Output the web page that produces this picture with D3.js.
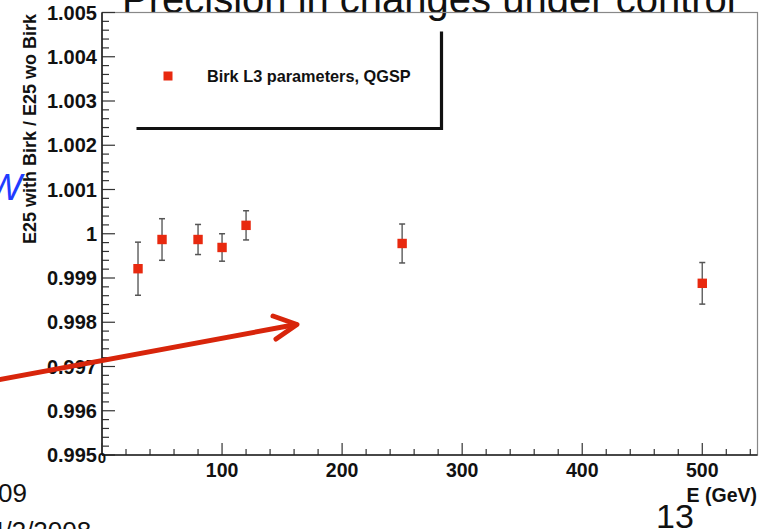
<!DOCTYPE html>
<html><head><meta charset="utf-8">
<script src="https://cdn.jsdelivr.net/npm/d3@7"></script>
<style>
html,body{margin:0;padding:0;background:#fff;}
svg{display:block;}
text{font-family:"Liberation Sans",Arial,Helvetica,sans-serif;}
</style></head>
<body>
<script>
// ---- data ----
const energies = [30, 50, 80, 100, 120, 250, 500];
const ratios   = [0.99921, 0.99987, 0.99987, 0.99969, 1.00019, 0.99978, 0.99888];
const errors   = [0.00060, 0.00047, 0.00034, 0.00031, 0.00033, 0.00044, 0.00047];
const yTickValues = [0.995, 0.996, 0.997, 0.998, 0.999, 1.000, 1.001, 1.002, 1.003, 1.004, 1.005];
const yTickLabels = ["0.995","0.996","0.997","0.998","0.999","1","1.001","1.002","1.003","1.004","1.005"];
const xTickValues = [0, 100, 200, 300, 400, 500];
const xTickLabels = ["0","100","200","300","400","500"];
const legendLabel = "Birk L3 parameters, QGSP";
const xTitle = "E (GeV)";
const yTitle = "E25 with Birk / E25 wo Birk";

const W = 764, H = 529;
const svg = d3.select("body").append("svg").attr("width", W).attr("height", H);

const pL = 102, pR = 757.5, pT = 12.5, pB = 455;
const x = d3.scaleLinear().domain([0, 546]).range([pL, pR]);
const y = d3.scaleLinear().domain([0.995, 1.005]).range([pB, pT]);

const red = "#e8290f";

// slide background text (cropped)
svg.append("text").attr("x", 122).attr("y", 13).attr("font-size", 40).attr("fill", "#111")
  .text("Precision in changes under control");
svg.append("text").attr("x", -13).attr("y", 200).attr("font-size", 37).attr("font-style", "italic")
  .attr("fill", "#1f3cff").text("W");
svg.append("text").attr("x", -2).attr("y", 502).attr("font-size", 26).attr("fill", "#111").text("09");
svg.append("text").attr("x", -10).attr("y", 540).attr("font-size", 26).attr("fill", "#111").text("4/3/2008");
svg.append("text").attr("x", 656).attr("y", 528).attr("font-size", 34).attr("fill", "#111").text("13");

// frame
svg.append("rect").attr("x", pL).attr("y", pT).attr("width", pR - pL).attr("height", pB - pT)
  .attr("fill", "none").attr("stroke", "#888").attr("stroke-width", 1.2);

// y axis
const yMinor = d3.range(0, 51).map(i => 0.995 + i * 0.0002);
svg.append("g").selectAll("line").data(yMinor).join("line")
  .attr("x1", pL).attr("x2", (d, i) => pL + (i % 5 === 0 ? 13 : 7))
  .attr("y1", d => y(d)).attr("y2", d => y(d)).attr("stroke", "#333").attr("stroke-width", 1.2);
svg.append("line").attr("x1", pL).attr("x2", pL).attr("y1", pT).attr("y2", pB)
  .attr("stroke", "#222").attr("stroke-width", 1.6);
svg.append("g").selectAll("text").data(yTickValues).join("text")
  .attr("x", 97).attr("y", d => y(d)).attr("dy", "0.36em").attr("text-anchor", "end")
  .attr("font-size", 20).attr("font-weight", "bold").attr("fill", "#111")
  .text((d, i) => yTickLabels[i]);

// x axis
const xMinor = d3.range(0, 28).map(i => i * 20).filter(v => v <= 546);
svg.append("g").selectAll("line").data(xMinor).join("line")
  .attr("x1", d => x(d)).attr("x2", d => x(d))
  .attr("y1", pB).attr("y2", d => pB - (d % 100 === 0 ? 12 : 6))
  .attr("stroke", "#333").attr("stroke-width", 1.2);
svg.append("line").attr("x1", pL).attr("x2", pR).attr("y1", pB).attr("y2", pB)
  .attr("stroke", "#222").attr("stroke-width", 1.6);
svg.append("g").selectAll("text").data(xTickValues).join("text")
  .attr("x", d => x(d)).attr("y", (d, i) => i === 0 ? 463 : 477).attr("text-anchor", "middle")
  .attr("font-size", (d, i) => i === 0 ? 15 : 19.5).attr("font-weight", "bold").attr("fill", "#111")
  .text((d, i) => xTickLabels[i]);

// titles
svg.append("text").attr("x", 757).attr("y", 502).attr("text-anchor", "end")
  .attr("font-size", 19.5).attr("font-weight", "bold").attr("fill", "#111").text(xTitle);
svg.append("text").attr("transform", "translate(36,14) rotate(-90)").attr("text-anchor", "end")
  .attr("font-size", 18).attr("font-weight", "bold").attr("fill", "#111").text(yTitle);

// legend (shadow lines only)
svg.append("path").attr("d", "M136.5,128.5 H441.5 V31.5").attr("fill", "none")
  .attr("stroke", "#111").attr("stroke-width", 3.2);
svg.append("rect").attr("x", 168 - 4.5).attr("y", 76 - 4.5).attr("width", 9).attr("height", 9).attr("fill", red);
svg.append("text").attr("x", 207).attr("y", 76).attr("dy", "0.36em")
  .attr("font-size", 16.3).attr("font-weight", "bold").attr("fill", "#111").text(legendLabel);

// data: error bars and markers
const pts = energies.map((e, i) => ({e, r: ratios[i], err: errors[i]}));
const g = svg.append("g");
g.selectAll("line.eb").data(pts).join("line").attr("class", "eb")
  .attr("x1", d => x(d.e)).attr("x2", d => x(d.e))
  .attr("y1", d => y(d.r - d.err)).attr("y2", d => y(d.r + d.err))
  .attr("stroke", "#666").attr("stroke-width", 1.5);
["lo", "hi"].forEach(k => {
  g.selectAll("line.cap" + k).data(pts).join("line").attr("class", "cap" + k)
    .attr("x1", d => x(d.e) - 3).attr("x2", d => x(d.e) + 3)
    .attr("y1", d => y(k === "lo" ? d.r - d.err : d.r + d.err))
    .attr("y2", d => y(k === "lo" ? d.r - d.err : d.r + d.err))
    .attr("stroke", "#555").attr("stroke-width", 1.5);
});
g.selectAll("rect.m").data(pts).join("rect").attr("class", "m")
  .attr("x", d => x(d.e) - 4.7).attr("y", d => y(d.r) - 4.7)
  .attr("width", 9.4).attr("height", 9.4).attr("fill", red);

// red annotation arrow (slide overlay)
svg.append("path").attr("d", "M-5,380.5 L296,324.5").attr("stroke", "#d8250b")
  .attr("stroke-width", 5).attr("fill", "none").attr("stroke-linecap", "round");
svg.append("path").attr("d", "M273,316 L297,324.5 L276,339").attr("stroke", "#d8250b")
  .attr("stroke-width", 5).attr("fill", "none").attr("stroke-linecap", "round").attr("stroke-linejoin", "round");
</script>
</body></html>
